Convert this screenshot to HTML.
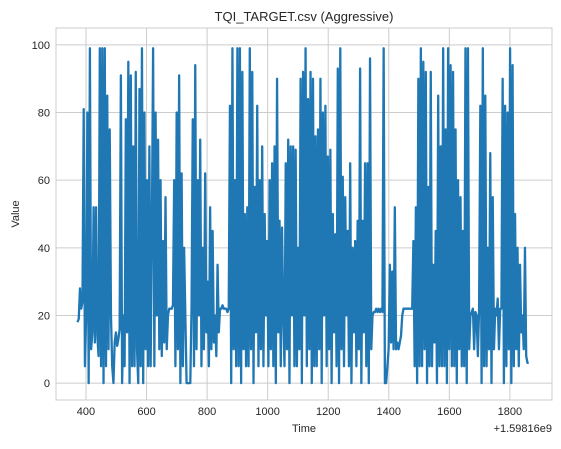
<!DOCTYPE html>
<html><head><meta charset="utf-8"><style>
body{margin:0;background:#fff}
svg text{font-family:"Liberation Sans",sans-serif;fill:#262626}
</style></head><body>
<svg id="c" width="561" height="444" xmlns="http://www.w3.org/2000/svg"></svg>
<script>
const yTicks=[0,20,40,60,80,100];
const xTicks=[400,600,800,1000,1200,1400,1600,1800];
const tStart=372, tEnd=1862;
const values=[18,19,28,22,24,
81,5,20,80,0,99,10,15,52,12,52,14,8,99,5,99,0,99,5,85,10,75,20,5,0,
12,15,11,13,16,
91,0,20,5,78,15,95,0,91,5,70,5,92,10,0,87,5,99,0,80,10,60,5,70,5,45,
99,5,80,20,72,10,60,8,42,12,55,10,20,
22,22,22,23,
60,5,80,10,91,0,62,5,40,20,
0,0,0,0,
22,78,5,94,10,60,20,
72,5,40,10,62,15,30,5,52,10,45,12,20,8,35,15,
22,22,23,22,22,22,21,22,
82,0,99,10,60,5,99,5,99,0,92,10,50,5,52,5,99,10,92,0,58,15,82,5,60,10,70,5,50,20,42,5,60,10,65,5,70,0,90,15,48,5,46,20,5,65,10,72,0,70,20,70,5,69,5,40,10,90,0,92,20,99,5,84,10,92,0,90,5,73,5,75,10,90,0,80,20,82,5,67,10,69,0,50,15,44,5,93,0,99,10,61,5,55,20,45,5,65,0,40,15,42,5,48,10,93,0,48,15,65,5,65,0,96,10,20,
21,21,22,21,22,21,22,21,
99,0,0,5,10,
35,12,33,10,
52,10,12,10,12,14,
20,22,22,22,22,22,22,22,22,
42,5,52,0,90,5,99,5,95,10,92,0,58,5,92,5,35,12,
45,0,85,5,70,5,99,5,75,0,99,10,94,
5,92,5,75,0,60,10,55,5,45,5,99,0,99,10,
20,21,22,10,21,20,8,22,
82,0,99,5,85,5,40,10,68,0,55,10,
22,20,25,10,22,22,
90,0,82,5,80,10,99,0,94,5,
50,10,40,5,35,15,20,10,40,8,6,6];
const L=56,R=552,T=28,B=400;
const xMin=301,xMax=1939,yMin=-5,yMax=105;
const X=t=>L+(t-xMin)/(xMax-xMin)*(R-L);
const Y=v=>B-(v-yMin)/(yMax-yMin)*(B-T);
const svg=document.getElementById('c');
const NS='http://www.w3.org/2000/svg';
function mk(tag,attrs,txt){const e=document.createElementNS(NS,tag);for(const k in attrs)e.setAttribute(k,attrs[k]);if(txt!==undefined)e.textContent=txt;svg.appendChild(e);return e;}
let e=mk('rect',{x:L,y:T,width:R-L,height:B-T,fill:'#fff'});


yTicks.forEach(v=>{
 let g=mk('line',{x1:L,x2:R,y1:Y(v),y2:Y(v),stroke:'#cccccc','stroke-width':1});
 
 
 let t=mk('text',{x:L-6,y:Y(v)+4,'text-anchor':'end','font-size':11},String(v));
 
 
});
xTicks.forEach(v=>{
 let g=mk('line',{x1:X(v),x2:X(v),y1:T,y2:B,stroke:'#cccccc','stroke-width':1});
 
 
 let t=mk('text',{x:X(v),y:B+15,'text-anchor':'middle','font-size':11},String(v));
 
 
});
const n=values.length;
let d='';
values.forEach((v,i)=>{const t=tStart+(tEnd-tStart)*i/(n-1);d+=(i?'L':'M')+X(t).toFixed(2)+' '+Y(v).toFixed(2);});
let p=mk('path',{d:d,fill:'none',stroke:'#1f77b4','stroke-width':2.3,'stroke-linejoin':'round'});


let s=mk('rect',{x:L,y:T,width:R-L,height:B-T,fill:'none',stroke:'#cccccc','stroke-width':1});


let ti=mk('text',{x:(L+R)/2,y:21,'text-anchor':'middle','font-size':13},'TQI_TARGET.csv (Aggressive)');


let xl=mk('text',{x:(L+R)/2,y:432,'text-anchor':'middle','font-size':11},'Time');


let off=mk('text',{x:R,y:432,'text-anchor':'end','font-size':11},'+1.59816e9');


let yl=mk('text',{x:19,y:(T+B)/2,'text-anchor':'middle','font-size':11,transform:'rotate(-90 19 '+((T+B)/2)+')'},'Value');


</script>
</body></html>
